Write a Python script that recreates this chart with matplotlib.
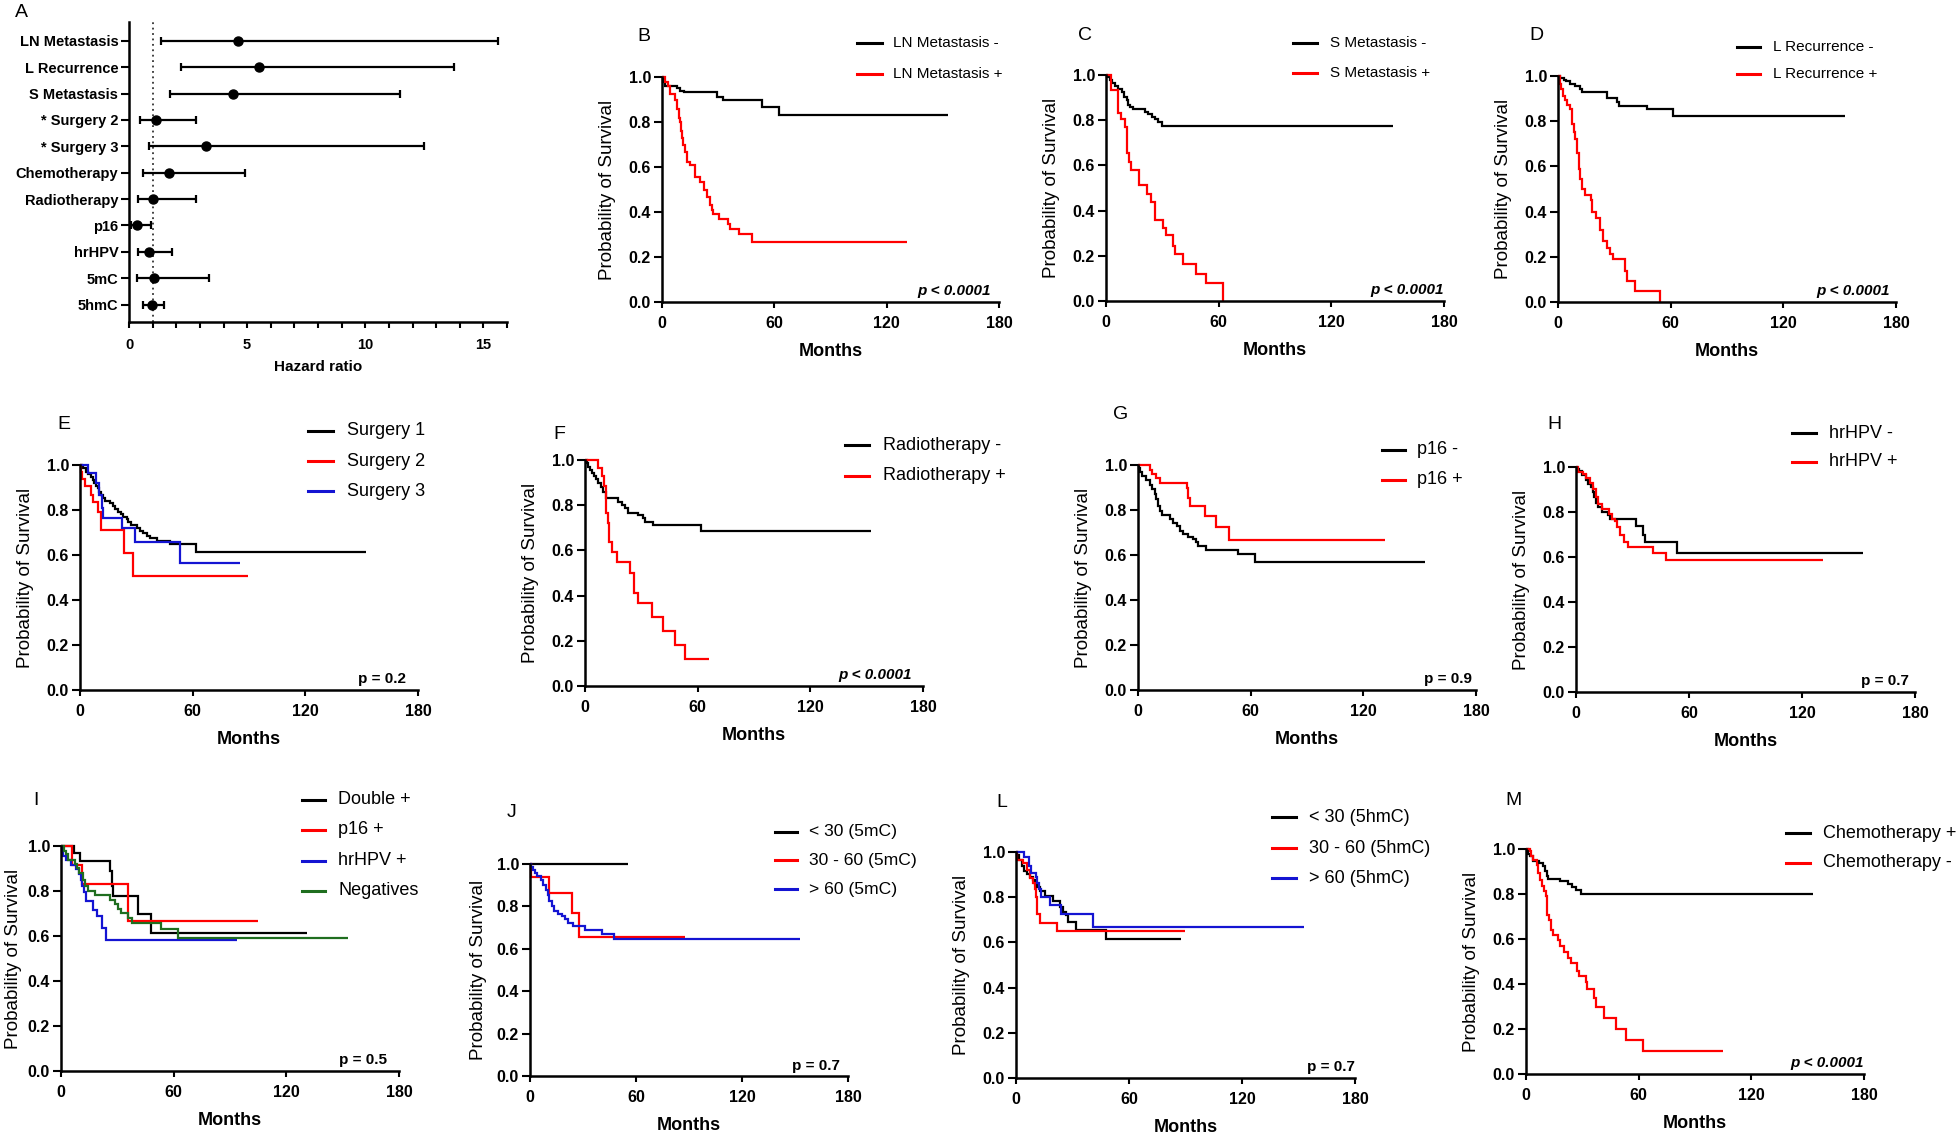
import matplotlib
matplotlib.use('Agg')
import matplotlib.pyplot as plt
from matplotlib.lines import Line2D

plt.rcParams['font.family'] = ['Liberation Sans', 'DejaVu Sans']

W, H = 1960, 1134
fig = plt.figure(figsize=(W / 100, H / 100), dpi=100)

# ---------------- Panel A: forest plot data ----------------
A_labels = ["LN Metastasis", "L Recurrence", "S Metastasis", "* Surgery 2", "* Surgery 3",
            "Chemotherapy", "Radiotherapy", "p16", "hrHPV", "5mC", "5hmC"]
A_hr = [4.60, 5.49, 4.41, 1.14, 3.28, 1.70, 1.03, 0.32, 0.83, 1.06, 0.96]
A_lo = [1.35, 2.20, 1.73, 0.46, 0.86, 0.61, 0.39, 0.08, 0.37, 0.34, 0.61]
A_hi = [15.64, 13.77, 11.47, 2.83, 12.47, 4.91, 2.82, 0.95, 1.80, 3.37, 1.49]
A_xticks = [0, 5, 10, 15]

KM_XTICKS = [0, 60, 120, 180]
KM_YTICKS = [0.0, 0.2, 0.4, 0.6, 0.8, 1.0]

# ---------------- Kaplan-Meier curves (time in months, survival) ----------------
B_neg_t = [0, 0.8, 1.8, 8.0, 9.8, 11.5, 29.3, 32.5, 53.3, 62.6, 152.8]
B_neg_s = [1.0, 0.98, 0.96, 0.95, 0.94, 0.933, 0.911, 0.896, 0.867, 0.833, 0.833]
B_pos_t = [0, 1.8, 3.0, 4.4, 7.1, 8.0, 8.9, 9.8, 10.3, 10.8, 11.2, 12.4, 13.3, 15.1, 17.8, 20.4, 22.2,
           24.0, 25.8, 26.7, 27.5, 30.2, 35.5, 36.4, 40.9, 48.0, 131.0]
B_pos_s = [1.0, 0.98, 0.96, 0.926, 0.896, 0.86, 0.82, 0.80, 0.76, 0.73, 0.70, 0.667, 0.622, 0.607, 0.556,
           0.533, 0.496, 0.467, 0.43, 0.407, 0.393, 0.37, 0.348, 0.326, 0.304, 0.267, 0.267]

C_neg_t = [0, 0.7, 2.1, 3.0, 4.8, 6.6, 8.3, 9.6, 11.0, 11.9, 12.8, 14.5, 20.7, 22.5, 24.3, 26.0, 27.8, 29.6, 152.8]
C_neg_s = [1.0, 0.99, 0.978, 0.963, 0.951, 0.94, 0.926, 0.904, 0.89, 0.867, 0.857, 0.848, 0.837, 0.827,
           0.815, 0.804, 0.793, 0.775, 0.775]
C_pos_t = [0, 2.5, 6.6, 7.8, 10.1, 11.3, 12.0, 13.1, 17.7, 21.6, 23.8, 26.1, 30.5, 31.9, 35.8, 37.0, 41.1,
           47.7, 53.2, 62.4]
C_pos_s = [1.0, 0.933, 0.83, 0.804, 0.768, 0.656, 0.613, 0.579, 0.513, 0.473, 0.439, 0.36, 0.323, 0.291,
           0.242, 0.207, 0.165, 0.121, 0.081, 0.0]

D_neg_t = [0, 1.2, 3.0, 4.4, 6.6, 9.2, 11.5, 12.8, 26.1, 31.4, 32.3, 47.3, 61.5, 152.8]
D_neg_s = [1.0, 0.991, 0.984, 0.976, 0.966, 0.957, 0.942, 0.928, 0.902, 0.885, 0.868, 0.854, 0.825, 0.825]
D_pos_t = [0, 0.9, 1.8, 2.7, 3.9, 4.8, 6.2, 7.4, 8.3, 9.2, 10.1, 11.0, 11.9, 12.8, 14.5, 17.6, 18.1, 20.4,
           22.2, 24.0, 26.1, 27.8, 29.3, 35.8, 36.7, 41.1, 54.4]
D_pos_s = [1.0, 0.964, 0.942, 0.912, 0.893, 0.873, 0.854, 0.787, 0.751, 0.722, 0.658, 0.589, 0.544, 0.50,
           0.475, 0.451, 0.399, 0.37, 0.318, 0.271, 0.241, 0.214, 0.189, 0.138, 0.092, 0.047, 0.0]

E_s1_t = [0, 0.9, 1.8, 3.2, 4.4, 5.7, 6.7, 7.6, 8.5, 9.4, 10.3, 11.2, 12.1, 13.3, 16.0, 17.7, 18.6, 20.4,
          21.8, 23.0, 24.8, 25.7, 27.0, 30.1, 31.9, 33.7, 35.5, 37.2, 40.8, 47.9, 62.0, 152.5]
E_s1_s = [1.0, 0.993, 0.985, 0.97, 0.96, 0.948, 0.933, 0.919, 0.907, 0.896, 0.881, 0.867, 0.855, 0.841,
          0.83, 0.818, 0.803, 0.793, 0.782, 0.77, 0.759, 0.748, 0.733, 0.719, 0.707, 0.696, 0.684, 0.674,
          0.663, 0.649, 0.615, 0.615]
E_s2_t = [0, 0.5, 0.9, 2.7, 5.7, 7.1, 9.8, 11.0, 23.6, 28.0, 89.5]
E_s2_s = [1.0, 0.97, 0.94, 0.907, 0.867, 0.837, 0.793, 0.711, 0.61, 0.507, 0.507]
E_s3_t = [0, 4.1, 8.3, 10.1, 11.5, 12.4, 22.2, 29.3, 53.2, 85.1]
E_s3_s = [1.0, 0.966, 0.922, 0.867, 0.807, 0.766, 0.721, 0.659, 0.566, 0.566]

F_neg_t = [0, 0.9, 1.8, 2.7, 3.5, 4.8, 5.9, 7.1, 8.3, 9.8, 11.2, 17.7, 19.5, 21.3, 23.0, 28.4, 31.0, 31.9,
           36.3, 62.0, 152.5]
F_neg_s = [1.0, 0.985, 0.97, 0.956, 0.944, 0.929, 0.914, 0.897, 0.879, 0.86, 0.83, 0.815, 0.8, 0.786,
           0.767, 0.756, 0.742, 0.727, 0.712, 0.686, 0.686]
F_pos_t = [0, 7.1, 8.9, 10.1, 11.2, 12.1, 12.9, 14.2, 16.8, 23.9, 26.2, 28.0, 35.8, 41.7, 47.7, 53.2, 66.0]
F_pos_s = [1.0, 0.963, 0.929, 0.885, 0.764, 0.72, 0.638, 0.594, 0.55, 0.502, 0.412, 0.368, 0.306, 0.244,
           0.18, 0.121, 0.121]

G_neg_t = [0, 0.5, 1.2, 2.3, 4.1, 6.2, 7.6, 8.9, 9.8, 10.7, 11.9, 13.0, 16.9, 18.7, 20.8, 22.2, 24.0,
           26.6, 29.3, 31.1, 32.0, 36.4, 53.3, 62.2, 152.8]
G_neg_s = [1.0, 0.985, 0.97, 0.95, 0.933, 0.911, 0.892, 0.871, 0.847, 0.818, 0.797, 0.778, 0.758, 0.741,
           0.729, 0.708, 0.692, 0.679, 0.67, 0.656, 0.641, 0.622, 0.604, 0.571, 0.571]
G_pos_t = [0, 6.2, 7.6, 9.8, 11.5, 26.3, 26.8, 27.9, 35.9, 41.4, 48.3, 131.5]
G_pos_s = [1.0, 0.978, 0.96, 0.941, 0.919, 0.896, 0.852, 0.818, 0.774, 0.724, 0.667, 0.667]

H_neg_t = [0, 0.7, 1.8, 3.0, 5.3, 6.5, 7.8, 8.8, 9.7, 10.6, 11.5, 13.6, 17.2, 18.0, 31.9, 35.8, 36.6,
           53.5, 152.6]
H_neg_s = [1.0, 0.993, 0.983, 0.963, 0.941, 0.926, 0.911, 0.889, 0.867, 0.84, 0.823, 0.8, 0.786, 0.771,
           0.737, 0.70, 0.668, 0.616, 0.616]
H_pos_t = [0, 1.2, 3.9, 5.3, 7.4, 8.8, 10.6, 11.9, 13.6, 17.7, 18.9, 20.7, 21.9, 23.4, 25.5, 27.4, 41.1,
           47.6, 131.0]
H_pos_s = [1.0, 0.978, 0.967, 0.953, 0.929, 0.904, 0.867, 0.837, 0.815, 0.793, 0.771, 0.761, 0.734,
           0.697, 0.668, 0.646, 0.619, 0.586, 0.586]

I_dbl_t = [0, 6.9, 10.1, 26.1, 27.0, 27.9, 41.2, 47.9, 131.2]
I_dbl_s = [1.0, 0.969, 0.932, 0.889, 0.821, 0.777, 0.698, 0.612, 0.612]
I_p16_t = [0, 5.7, 11.4, 35.9, 104.7]
I_p16_s = [1.0, 0.917, 0.833, 0.667, 0.667]
I_hpv_t = [0, 0.7, 1.2, 2.5, 5.1, 8.0, 9.6, 10.5, 11.4, 12.0, 13.1, 16.9, 19.4, 21.7, 24.0, 93.9]
I_hpv_s = [1.0, 0.978, 0.954, 0.936, 0.914, 0.899, 0.877, 0.85, 0.821, 0.796, 0.756, 0.714, 0.688,
           0.637, 0.584, 0.584]
I_neg_t = [0, 1.6, 2.7, 3.9, 7.5, 8.7, 9.8, 11.9, 12.8, 14.6, 18.1, 26.1, 28.8, 30.5, 31.8, 35.9, 37.6,
           53.3, 62.5, 153.0]
I_neg_s = [1.0, 0.98, 0.963, 0.936, 0.919, 0.904, 0.88, 0.848, 0.821, 0.8, 0.781, 0.762, 0.741, 0.722,
           0.703, 0.682, 0.659, 0.63, 0.593, 0.593]

J_lo_t = [0, 55.7]
J_lo_s = [1.0, 1.0]
J_mid_t = [0, 0.4, 10.8, 24.0, 27.8, 87.5]
J_mid_s = [1.0, 0.937, 0.863, 0.769, 0.658, 0.658]
J_hi_t = [0, 0.6, 1.5, 2.8, 4.2, 6.2, 7.6, 8.9, 10.0, 11.0, 12.3, 13.6, 16.1, 17.9, 19.8, 21.7, 24.6,
          31.2, 40.6, 47.6, 152.6]
J_hi_s = [1.0, 0.986, 0.973, 0.957, 0.945, 0.926, 0.902, 0.879, 0.855, 0.824, 0.80, 0.78, 0.764, 0.753,
          0.74, 0.724, 0.706, 0.69, 0.671, 0.647, 0.647]

L_lo_t = [0, 0.7, 1.8, 3.0, 4.2, 6.0, 7.4, 8.8, 10.1, 11.0, 12.7, 15.4, 19.8, 23.4, 25.1, 26.4, 27.8,
          31.9, 47.6, 87.4]
L_lo_s = [1.0, 0.985, 0.963, 0.937, 0.916, 0.904, 0.889, 0.875, 0.86, 0.845, 0.826, 0.804, 0.783, 0.757,
          0.735, 0.72, 0.69, 0.656, 0.614, 0.614]
L_mid_t = [0, 0.4, 3.5, 6.0, 7.4, 8.8, 10.1, 10.6, 11.0, 12.7, 21.9, 89.7]
L_mid_s = [1.0, 0.963, 0.951, 0.919, 0.886, 0.863, 0.838, 0.801, 0.724, 0.687, 0.649, 0.649]
L_hi_t = [0, 4.2, 7.1, 7.8, 10.6, 11.3, 12.4, 13.1, 18.1, 23.7, 40.7, 152.9]
L_hi_s = [1.0, 0.978, 0.937, 0.907, 0.889, 0.863, 0.838, 0.801, 0.764, 0.724, 0.668, 0.668]

M_pos_t = [0, 1.2, 2.1, 3.5, 7.1, 8.9, 10.1, 11.0, 11.9, 18.1, 22.5, 24.3, 26.6, 29.1, 152.8]
M_pos_s = [1.0, 0.979, 0.97, 0.948, 0.938, 0.923, 0.901, 0.881, 0.867, 0.856, 0.844, 0.831, 0.819,
           0.801, 0.801]
M_neg_t = [0, 2.1, 2.7, 3.5, 5.7, 6.6, 7.4, 8.3, 9.6, 10.6, 11.3, 12.2, 13.1, 14.2, 17.2, 18.1, 20.2,
           22.2, 23.8, 27.0, 28.4, 31.9, 32.6, 36.2, 37.1, 41.5, 47.9, 53.5, 62.4, 105.0]
M_neg_s = [1.0, 0.99, 0.97, 0.953, 0.93, 0.893, 0.864, 0.837, 0.812, 0.79, 0.708, 0.683, 0.641, 0.619,
           0.597, 0.567, 0.541, 0.516, 0.493, 0.46, 0.437, 0.407, 0.378, 0.338, 0.296, 0.249, 0.2, 0.153,
           0.101, 0.101]

BLACK, RED, BLUE, GREEN = '#000000', '#ff0000', '#1414d2', '#1f6e1f'


def rect(l, r, t, b):
    return [l / W, 1 - b / H, (r - l) / W, (b - t) / H]


def letter(txt, x, y):
    fig.text(x / W, 1 - (y - 1) / H, txt, fontsize=14, va='top', ha='left')


def base_style(ax):
    for s in ['top', 'right']:
        ax.spines[s].set_visible(False)
    for s in ['left', 'bottom']:
        ax.spines[s].set_linewidth(1.8)


# ---------------- Panel A ----------------
axA = fig.add_axes(rect(129, 507, 22, 322))
ypos = list(range(len(A_labels)))
axA.axvline(1, ls=(0, (1, 2)), color='#333333', lw=1.3, zorder=1)
axA.errorbar(A_hr, ypos, xerr=[[h - l for h, l in zip(A_hr, A_lo)], [u - h for h, u in zip(A_hr, A_hi)]],
             fmt='o', color='black', ms=6.5, elinewidth=1.6, capsize=3, capthick=1.6, clip_on=False, zorder=3)
axA.set_xlim(0, 16)
axA.set_ylim(len(A_labels) - 1 + 0.66, -0.71)
base_style(axA)
axA.set_yticks(ypos, labels=A_labels, fontsize=10.5, fontweight='bold')
axA.set_xticks(A_xticks, labels=[str(v) for v in A_xticks], fontsize=10.5, fontweight='bold')
axA.set_xticks(range(0, 17), minor=True)
axA.tick_params(axis='y', direction='out', length=6, width=1.5, pad=1.7)
axA.tick_params(axis='x', which='both', direction='out', length=4.3, width=1.5, pad=7.5)
axA.set_xlabel('Hazard ratio', fontsize=11, fontweight='bold')
axA.xaxis.set_label_coords(0.5, -38 / 300)
letter('A', 15, 5)


# ---------------- KM panels ----------------
def km_panel(px, curves, colors, labels, leg, pval, p_x, let, let_xy, ylab_off=46):
    l, r, t, b = px
    ax = fig.add_axes(rect(l, r, t, b))
    for (tt, ss), c in zip(curves, colors):
        ax.plot(tt, ss, drawstyle='steps-post', color=c, lw=1.6, clip_on=False,
                solid_joinstyle='miter', solid_capstyle='butt')
    ax.set_xlim(0, 180)
    ax.set_ylim(0, 1)
    base_style(ax)
    ax.set_xticks(KM_XTICKS, labels=[str(v) for v in KM_XTICKS], fontsize=11.5, fontweight='bold')
    ax.set_yticks(KM_YTICKS, labels=['%.1f' % v for v in KM_YTICKS], fontsize=11.5, fontweight='bold')
    ax.tick_params(axis='x', direction='out', length=4.3, width=1.5, pad=6)
    ax.tick_params(axis='y', direction='out', length=5.5, width=1.5, pad=2.5)
    ax.set_xlabel('Months', fontsize=13, fontweight='bold')
    ax.set_ylabel('Probability of Survival', fontsize=13.5)
    ax.xaxis.set_label_coords(0.5, -41 / (b - t))
    ax.yaxis.set_label_coords(-ylab_off / (r - l), 0.5)
    italic = '<' in pval
    ax.text(p_x, 0.03, pval, ha='right', va='baseline', fontsize=11, fontweight='bold',
            fontstyle='italic' if italic else 'normal')
    x0, x1, xt, ys, fs = leg
    for y, c, lab in zip(ys, colors, labels):
        fig.add_artist(Line2D([x0 / W, x1 / W], [1 - y / H, 1 - y / H], color=c, lw=2.2))
        fig.text(xt / W, 1 - y / H, lab, fontsize=fs, va='center', ha='left')
    letter(let, *let_xy)
    return ax


km_panel((662, 999, 77, 302), [(B_neg_t, B_neg_s), (B_pos_t, B_pos_s)], [BLACK, RED],
         ["LN Metastasis -", "LN Metastasis +"], (857, 882, 893, [43.3, 74], 11),
         "p < 0.0001", 175.4, 'B', (637, 29))
km_panel((1106, 1444, 75, 301), [(C_neg_t, C_neg_s), (C_pos_t, C_pos_s)], [BLACK, RED],
         ["S Metastasis -", "S Metastasis +"], (1293, 1317, 1330, [42.7, 72.7], 11),
         "p < 0.0001", 180, 'C', (1078, 28))
km_panel((1558, 1896, 76, 302), [(D_neg_t, D_neg_s), (D_pos_t, D_pos_s)], [BLACK, RED],
         ["L Recurrence -", "L Recurrence +"], (1737, 1760, 1773, [46.7, 74], 11),
         "p < 0.0001", 176.8, 'D', (1529, 28))
km_panel((80, 418, 465, 690), [(E_s1_t, E_s1_s), (E_s2_t, E_s2_s), (E_s3_t, E_s3_s)], [BLACK, RED, BLUE],
         ["Surgery 1", "Surgery 2", "Surgery 3"], (308, 333, 347, [430.7, 461, 491], 13),
         "p = 0.2", 173.8, 'E', (57, 417))
km_panel((585, 923, 460, 686), [(F_neg_t, F_neg_s), (F_pos_t, F_pos_s)], [BLACK, RED],
         ["Radiotherapy -", "Radiotherapy +"], (845, 869, 883, [445, 476], 13),
         "p < 0.0001", 174.3, 'F', (553, 427))
km_panel((1138, 1476, 465, 690), [(G_neg_t, G_neg_s), (G_pos_t, G_pos_s)], [BLACK, RED],
         ["p16 -", "p16 +"], (1382, 1405, 1417, [450, 480], 13),
         "p = 0.9", 178, 'G', (1113, 407))
km_panel((1576, 1915, 467, 692), [(H_neg_t, H_neg_s), (H_pos_t, H_pos_s)], [BLACK, RED],
         ["hrHPV -", "hrHPV +"], (1792, 1816, 1829, [433, 462], 13),
         "p = 0.7", 177, 'H', (1547, 417))
km_panel((61, 399, 846, 1071),
         [(I_dbl_t, I_dbl_s), (I_p16_t, I_p16_s), (I_hpv_t, I_hpv_s), (I_neg_t, I_neg_s)],
         [BLACK, RED, BLUE, GREEN], ["Double +", "p16 +", "hrHPV +", "Negatives"],
         (302, 325, 338, [800, 830, 860.7, 890.7], 13), "p = 0.5", 173.4, 'I', (33, 793), ylab_off=39)
km_panel((530, 848, 864, 1076), [(J_lo_t, J_lo_s), (J_mid_t, J_mid_s), (J_hi_t, J_hi_s)],
         [BLACK, RED, BLUE], ["< 30 (5mC)", "30 - 60 (5mC)", "> 60 (5mC)"],
         (775, 797, 809, [831.7, 860, 889.3], 12.6), "p = 0.7", 175.5, 'J', (507, 805), ylab_off=43)
km_panel((1016, 1355, 852, 1078), [(L_lo_t, L_lo_s), (L_mid_t, L_mid_s), (L_hi_t, L_hi_s)],
         [BLACK, RED, BLUE], ["< 30 (5hmC)", "30 - 60 (5hmC)", "> 60 (5hmC)"],
         (1272, 1296, 1309, [817.3, 848.3, 878.3], 13), "p = 0.7", 180, 'L', (996, 795))
km_panel((1526, 1864, 849, 1074), [(M_pos_t, M_pos_s), (M_neg_t, M_neg_s)], [BLACK, RED],
         ["Chemotherapy +", "Chemotherapy -"], (1786, 1810, 1823, [833.3, 862.7], 13),
         "p < 0.0001", 180, 'M', (1505, 793))

fig.savefig('out.png', dpi=100)
